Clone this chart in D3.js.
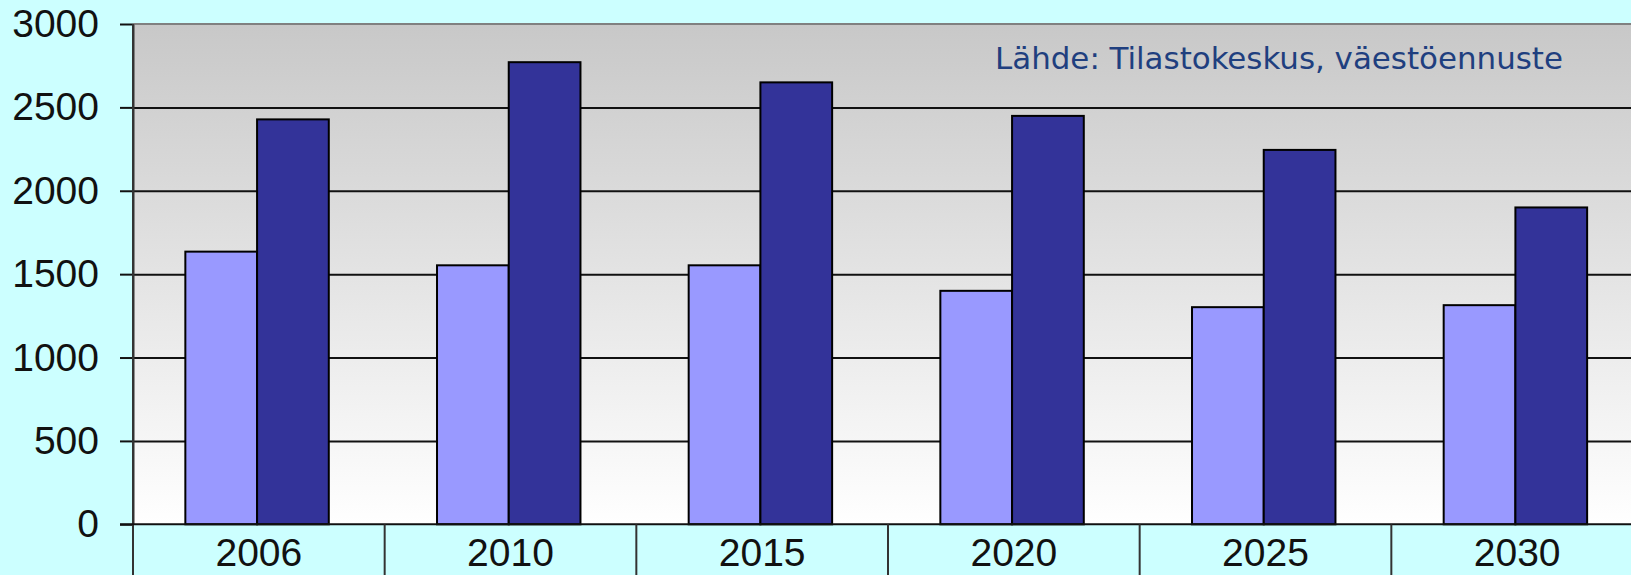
<!DOCTYPE html>
<html>
<head>
<meta charset="utf-8">
<script src="https://cdn.jsdelivr.net/npm/d3@7"></script>
<style>
  html, body { margin: 0; padding: 0; background: #CCFFFF; overflow: hidden; }
  svg { display: block; }
</style>
</head>
<body>
<svg id="chart" width="1631" height="575"></svg>
<script>
// Data
const categories = ["2006", "2010", "2015", "2020", "2025", "2030"];
const seriesLight = [1635, 1553, 1553, 1400, 1302, 1314];
const seriesDark  = [2428, 2771, 2650, 2449, 2245, 1900];
const yTicks = [0, 500, 1000, 1500, 2000, 2500, 3000];
const sourceLabel = "Lähde: Tilastokeskus, väestöennuste";

(function () {
const W = 1631, H = 575;
const pLeft = 133, pRight = 1643, pTop = 24, pBottom = 524.3;

const svg = d3.select("#chart");

const x = d3.scaleBand().domain(categories).range([pLeft, pRight]).padding(0);
const y = d3.scaleLinear().domain([0, 3000]).range([pBottom, pTop]);

// Background gradient for plot area
const defs = svg.append("defs");
const grad = defs.append("linearGradient").attr("id", "plotGrad")
  .attr("x1", 0).attr("y1", 0).attr("x2", 0).attr("y2", 1);
grad.append("stop").attr("offset", "0%").attr("stop-color", "#C8C8C8");
grad.append("stop").attr("offset", "100%").attr("stop-color", "#FFFFFF");

svg.append("rect")
  .attr("x", pLeft).attr("y", pTop)
  .attr("width", pRight - pLeft).attr("height", pBottom - pTop)
  .attr("fill", "url(#plotGrad)");

// top border
svg.append("line")
  .attr("x1", pLeft).attr("x2", pRight).attr("y1", y(3000)).attr("y2", y(3000))
  .attr("stroke", "#808080").attr("stroke-width", 2);

// Gridlines
const gridG = svg.append("g").attr("transform", `translate(${pLeft},0)`)
  .call(d3.axisLeft(y).tickValues(yTicks.filter(v => v > 0 && v < 3000))
    .tickSize(-(pRight - pLeft)).tickFormat(""));
gridG.select(".domain").remove();
gridG.selectAll("line").attr("stroke", "#111").attr("stroke-width", 2);

// Bars
const bw = x.bandwidth();
const barW = bw * 0.285;
const off = bw * 0.208;

const barsData = categories.map((c, i) => ({ c, light: seriesLight[i], dark: seriesDark[i] }));

svg.append("g").selectAll("rect.light").data(barsData).join("rect")
  .attr("class", "light")
  .attr("x", d => x(d.c) + off)
  .attr("y", d => y(d.light))
  .attr("width", barW)
  .attr("height", d => y(0) - y(d.light))
  .attr("fill", "#9999FF").attr("stroke", "#000").attr("stroke-width", 2);

svg.append("g").selectAll("rect.dark").data(barsData).join("rect")
  .attr("class", "dark")
  .attr("x", d => x(d.c) + off + barW)
  .attr("y", d => y(d.dark))
  .attr("width", barW)
  .attr("height", d => y(0) - y(d.dark))
  .attr("fill", "#333399").attr("stroke", "#000").attr("stroke-width", 2);

// Y axis
const yAxisG = svg.append("g").attr("transform", `translate(${pLeft},0)`)
  .call(d3.axisLeft(y).tickValues(yTicks).tickFormat(d3.format("d"))
    .tickSize(13).tickPadding(21).tickSizeOuter(0));
yAxisG.select(".domain").attr("stroke", "#333").attr("stroke-width", 2);
yAxisG.selectAll("line").attr("stroke", "#111").attr("stroke-width", 2);
yAxisG.selectAll("text")
  .attr("font-family", "Arial, 'Liberation Sans', sans-serif")
  .attr("font-size", 39).attr("fill", "#111");

// Vertical axis line continuing below
svg.append("line")
  .attr("x1", pLeft).attr("x2", pLeft).attr("y1", pTop).attr("y2", H)
  .attr("stroke", "#333").attr("stroke-width", 2);

// X axis line
svg.append("line")
  .attr("x1", pLeft - 13).attr("x2", pRight).attr("y1", y(0)).attr("y2", y(0))
  .attr("stroke", "#111").attr("stroke-width", 2);

// Category dividers
svg.append("g").selectAll("line").data(categories.slice(1)).join("line")
  .attr("x1", d => x(d)).attr("x2", d => x(d))
  .attr("y1", y(0)).attr("y2", H)
  .attr("stroke", "#333").attr("stroke-width", 2);

// X labels
svg.append("g").selectAll("text").data(categories).join("text")
  .attr("x", d => x(d) + bw / 2)
  .attr("y", 566)
  .attr("text-anchor", "middle")
  .attr("font-family", "Arial, 'Liberation Sans', sans-serif")
  .attr("font-size", 39).attr("fill", "#111")
  .text(d => d);

// Source label
svg.append("text")
  .attr("x", 995).attr("y", 69)
  .attr("font-family", "'DejaVu Sans Condensed', 'DejaVu Sans', sans-serif")
  .attr("font-size", 30)
  .attr("fill", "#1F3F7F")
  .attr("textLength", 568).attr("lengthAdjust", "spacingAndGlyphs")
  .text(sourceLabel);
})();
</script>
</body>
</html>
